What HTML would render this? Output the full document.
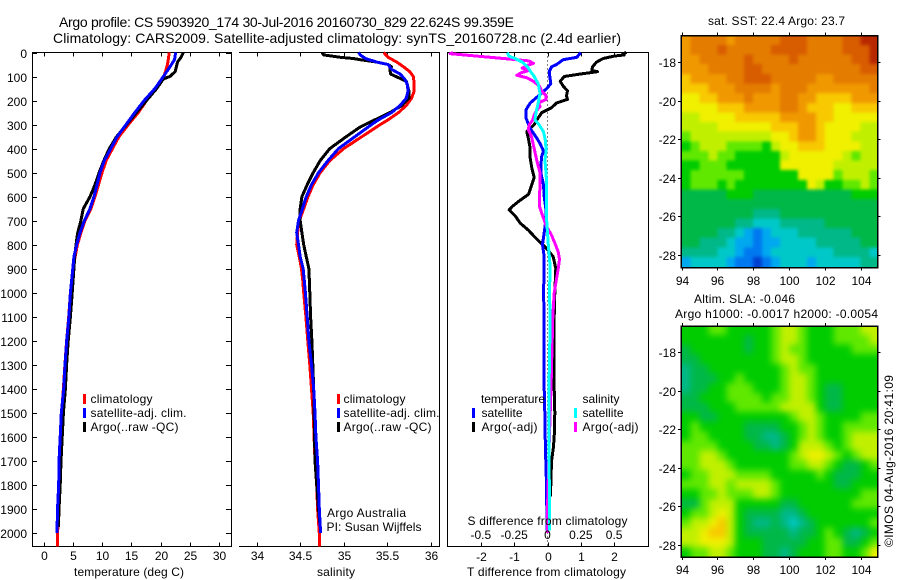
<!DOCTYPE html>
<html lang="en">
<head>
<meta charset="utf-8">
<title>Argo profile 5903920</title>
<style>
html,body{margin:0;padding:0;background:#fff;width:900px;height:580px;overflow:hidden}
svg{display:block;font-family:"Liberation Sans",sans-serif;font-size:12px;fill:#000}
text{fill:#000}
</style>
</head>
<body>
<svg id="chart" xmlns="http://www.w3.org/2000/svg" width="900" height="580" viewBox="0 0 900 580">
<defs>
<filter id="blurSst" x="-10%" y="-10%" width="120%" height="120%" color-interpolation-filters="sRGB"><feGaussianBlur stdDeviation="1.6"/></filter>
<filter id="blurSla" x="-10%" y="-10%" width="120%" height="120%" color-interpolation-filters="sRGB"><feGaussianBlur stdDeviation="3.5"/></filter>
<clipPath id="clipSst"><rect x="681" y="35.5" width="196.5" height="232"/></clipPath>
<clipPath id="clipSla"><rect x="681" y="326" width="196.5" height="231"/></clipPath>
</defs>
<text x="59" y="27" font-size="14" textLength="455" lengthAdjust="spacing">Argo profile: CS 5903920_174 30-Jul-2016 20160730_829 22.624S 99.359E</text>
<text x="53" y="43" font-size="14" textLength="568" lengthAdjust="spacing">Climatology: CARS2009. Satellite-adjusted climatology: synTS_20160728.nc (2.4d earlier)</text>
<text x="74" y="576" textLength="110" lengthAdjust="spacing">temperature (deg C)</text>
<text x="317" y="576" textLength="38" lengthAdjust="spacing">salinity</text>
<text x="467" y="576" textLength="159" lengthAdjust="spacing">T difference from climatology</text>
<text x="327" y="517" textLength="79" lengthAdjust="spacing">Argo Australia</text>
<text x="326.5" y="531" textLength="95" lengthAdjust="spacing">PI: Susan Wijffels</text>
<text x="708" y="25" textLength="137" lengthAdjust="spacing">sat. SST: 22.4  Argo: 23.7</text>
<text x="694" y="303" textLength="101" lengthAdjust="spacing">Altim. SLA: -0.046</text>
<text x="675" y="318" textLength="203" lengthAdjust="spacing">Argo h1000: -0.0017 h2000: -0.0054</text>
<text transform="translate(893,547) rotate(-90)" textLength="172" lengthAdjust="spacing">©IMOS 04-Aug-2016 20:41:09</text>

<g>
<rect x="83" y="394" width="3" height="10" fill="#f00"/>
<rect x="83" y="408" width="3" height="10" fill="#00f"/>
<rect x="83" y="422" width="3" height="10" fill="#000"/>
<text x="90.5" y="403" textLength="62" lengthAdjust="spacing">climatology</text>
<text x="90.5" y="417" textLength="96" lengthAdjust="spacing">satellite-adj. clim.</text>
<text x="90.5" y="431" textLength="88" lengthAdjust="spacing">Argo(..raw -QC)</text>
</g>
<g>
<rect x="337" y="394" width="3" height="10" fill="#f00"/>
<rect x="337" y="408" width="3" height="10" fill="#00f"/>
<rect x="337" y="422" width="3" height="10" fill="#000"/>
<text x="343.5" y="403" textLength="62" lengthAdjust="spacing">climatology</text>
<text x="343.5" y="417" textLength="96" lengthAdjust="spacing">satellite-adj. clim.</text>
<text x="343.5" y="431" textLength="88" lengthAdjust="spacing">Argo(..raw -QC)</text>
</g>
<g id="overlay"></g>
<text id="sdiffTitle" x="467.5" y="525" textLength="160" lengthAdjust="spacing">S difference from climatology</text>
</svg>
<script>
var depthLabels = [0,100,200,300,400,500,600,700,800,900,1000,1100,1200,1300,1400,1500,1600,1700,1800,1900,2000];
var tempTicks = [0,5,10,15,20,25,30];
var salTicks = [34,34.5,35,35.5,36];
var salTickLabels = ['34','34.5','35','35.5','36'];
var tdiffTicks = [-2,-1,0,1,2];
var sdiffTicks = [-0.5,-0.25,0,0.25,0.5];
var lonTicks = [94,96,98,100,102,104];
var latTicks = [-18,-20,-22,-24,-26,-28];

var tempClimDepth = [0,50,100,150,200,250,300,350,400,450,500,550,600,650,700,750,800,850,900,1000,1100,1200,1300,1400,1500,1600,1700,1800,1900,2000,2055];
var tempClim = [21.5,21.2,20.6,19.06,17.6,16.2,14.5,12.9,11.8,10.7,10,9.4,8.8,8.1,7.1,6.4,5.8,5.4,5.05,4.6,4.3,3.95,3.65,3.4,3.1,2.94,2.7,2.65,2.5,2.43,2.36];
var tempSatDepth = [0,30,60,100,150,200,250,300,350,400,450,500,550,600,650,700,750,800,850,900,1000,1100,1200,1300,1400,1500,1600,1700,1800,1900,2000];
var tempSat = [22.6,22.4,21.6,20.5,19.06,17.2,15.6,14.1,12.6,11.5,10.4,9.66,9.15,8.63,7.95,7,6.24,5.67,5.2,5,4.6,4.35,3.97,3.67,3.45,3.05,2.85,2.65,2.6,2.4,2.3];
var tempArgoDepth = [0,20,40,80,100,110,150,200,250,300,350,400,450,500,550,600,650,700,750,800,850,900,1000,1100,1200,1300,1400,1500,1600,1700,1800,1900,1975];
var tempArgo = [23.9,23.5,22.9,22.5,21.6,20.5,19.35,17.6,15.9,14.2,12.5,11.25,10.3,9.5,8.8,7.95,6.8,6.4,5.85,5.55,5.33,5.2,4.9,4.6,4.22,3.95,3.75,3.4,3.2,3,2.85,2.65,2.55];

var salClimDepth = [0,20,40,60,80,100,130,160,190,220,250,280,300,350,400,450,500,550,600,650,700,750,800,850,900,950,1000,1100,1200,1300,1400,1500,1600,1700,1800,1900,2000,2055];
var salClim = [35.46,35.51,35.61,35.69,35.76,35.8,35.81,35.81,35.78,35.72,35.63,35.51,35.42,35.21,35,34.84,34.73,34.65,34.59,34.54,34.49,34.47,34.46,34.49,34.515,34.53,34.54,34.565,34.587,34.61,34.63,34.65,34.66,34.67,34.69,34.7,34.72,34.72];
var salSatDepth = [0,10,25,40,50,70,90,110,130,160,190,220,250,280,300,350,400,450,500,550,600,650,700,750,800,850,900,1000,1100,1200,1300,1400,1500,1600,1700,1800,1900,2000];
var salSat = [35.17,35.19,35.25,35.38,35.51,35.55,35.65,35.7,35.73,35.74,35.72,35.65,35.55,35.4,35.32,35.13,34.94,34.82,34.71,34.63,34.57,34.525,34.48,34.46,34.48,34.5,34.535,34.56,34.58,34.6,34.63,34.655,34.67,34.68,34.7,34.71,34.72,34.735];
var salArgoDepth = [0,10,20,25,30,40,50,60,70,90,105,120,160,190,220,250,280,310,350,400,450,500,550,600,650,700,750,800,850,900,1000,1100,1200,1300,1400,1700,1900,1975];
var salArgo = [34.75,34.77,34.96,35.11,35.19,35.38,35.51,35.55,35.53,35.54,35.63,35.72,35.75,35.75,35.67,35.53,35.36,35.19,35.03,34.84,34.73,34.65,34.58,34.52,34.5,34.5,34.52,34.54,34.57,34.6,34.61,34.62,34.635,34.645,34.655,34.67,34.71,34.73];

var tdiffSatDepth = [0,20,30,50,60,80,100,130,150,180,210,240,270,300,320,350,380,410,430,470,500,550,600,650,700,750,800,850,900,1000,1100,1200,1300,1400,1500,1600,1700,1800,1900,1990];
var tdiffSat = [1,0.88,0.47,0.27,0.12,0.05,0.07,0.1,-0.02,-0.27,-0.52,-0.65,-0.65,-0.57,-0.5,-0.35,-0.22,-0.12,-0.17,-0.2,-0.2,-0.12,-0.1,-0.05,-0.05,-0.1,-0.15,-0.1,-0.1,-0.12,-0.1,-0.1,-0.1,-0.1,-0.08,-0.07,-0.05,-0.03,-0.02,-0.01];
var tdiffArgoDepth = [0,5,10,15,25,40,60,75,80,90,100,120,140,160,180,195,210,230,250,270,300,330,360,400,440,480,520,550,590,620,640,655,680,710,740,770,790,820,850,880,900,1000,1100,1400,1500,1600,1650,1700,1800,1850];
var tdiffArgo = [2.37,2.27,2.3,2,1.67,1.47,1.35,1.33,1.5,0.97,0.5,0.38,0.47,0.6,0.57,0.6,0.27,0.12,-0.17,-0.27,-0.4,-0.62,-0.57,-0.52,-0.52,-0.47,-0.4,-0.47,-0.57,-0.87,-1.05,-1.15,-0.97,-0.82,-0.57,-0.37,-0.22,0,0.17,0.22,0.25,0.22,0.2,0.2,0.22,0.2,0.17,0.12,0.1,0.08];
var sdiffSatDepth = [0,15,25,40,60,80,100,130,170,210,250,280,300,330,370,410,450,500,550,600,700,750,800,850,900,1000,1100,1400,1990];
var sdiffSat = [-0.3,-0.29,-0.244,-0.19,-0.15,-0.126,-0.1,-0.07,-0.056,-0.07,-0.086,-0.094,-0.064,-0.03,-0.014,-0.011,-0.019,-0.011,-0.006,-0.006,-0.006,0,0.006,0.014,0.02,0.014,0.02,0.011,0.014];
var sdiffArgoDepth = [0,5,15,25,35,45,55,65,75,85,95,105,120,140,160,180,195,210,225,240,260,280,300,320,350,400,450,500,550,600,640,680,720,760,800,830,860,900,1000,1100,1400,1600,1900,2000];
var sdiffArgo = [-0.71,-0.73,-0.53,-0.33,-0.14,-0.106,-0.156,-0.19,-0.14,-0.2,-0.23,-0.156,-0.106,-0.06,-0.044,-0.01,-0.01,-0.07,-0.056,-0.08,-0.1,-0.11,-0.136,-0.144,-0.12,-0.1,-0.08,-0.056,-0.056,-0.06,-0.06,-0.036,-0.011,0.03,0.06,0.08,0.09,0.08,0.05,0.04,0.026,0.014,0,0.001];

var sstLevels = [
[11,12,12,12,12,11,12,12,12,12,12,13,13,13,12,12,12,12,13,13,14,14],
[11,12,12,12,13,12,12,12,12,12,13,13,13,13,12,12,12,12,13,13,13,14],
[11,11,12,12,12,12,12,13,12,12,12,12,13,12,12,12,12,12,12,13,13,14],
[11,11,11,12,12,12,12,13,13,12,12,12,12,12,12,12,12,12,12,12,13,13],
[10,11,11,11,11,12,12,13,13,13,12,12,12,12,12,11,11,12,12,12,12,12],
[10,10,10,11,11,11,12,12,12,12,11,12,12,12,11,11,11,11,11,11,11,12],
[9,9,10,10,11,11,11,12,11,11,11,12,12,11,11,10,10,10,10,11,11,11],
[9,9,9,9,10,10,10,11,11,11,11,12,12,11,10,10,10,9,9,10,10,10],
[8,8,9,9,9,9,10,10,10,10,10,11,11,11,11,10,10,9,9,9,9,9],
[8,8,8,8,9,9,9,9,9,9,10,10,10,11,11,10,9,9,9,9,8,8],
[7,8,8,8,8,8,8,8,8,8,9,9,10,11,11,10,9,9,9,8,8,8],
[6,7,8,8,8,7,7,7,7,6,8,9,9,10,10,10,9,9,9,9,8,8],
[7,7,7,8,7,7,6,6,6,6,6,8,9,9,9,9,9,9,8,7,8,8],
[6,6,7,7,7,6,6,6,6,6,6,9,9,9,9,9,9,8,8,8,8,8],
[6,7,7,7,7,7,7,6,6,6,6,6,6,9,9,9,9,7,8,8,8,7],
[6,7,7,7,6,7,6,6,6,6,6,6,6,6,9,8,6,6,7,7,8,7],
[5,5,5,5,5,6,6,6,5,5,5,5,5,5,5,5,5,5,5,6,6,6],
[5,5,5,5,5,5,5,5,5,5,5,5,5,5,5,5,5,5,5,5,5,5],
[5,5,5,5,5,5,5,5,4,4,4,5,5,5,5,5,5,5,5,5,5,5],
[5,5,5,5,5,5,4,4,3,3,3,4,4,4,4,4,5,5,5,5,5,5],
[5,5,5,5,4,4,3,2,1,2,3,3,3,4,4,4,4,4,4,5,5,5],
[5,5,4,4,4,3,2,2,1,2,2,3,3,3,3,4,4,4,4,4,5,5],
[4,4,4,4,3,3,2,1,1,2,3,3,3,3,3,3,3,4,4,4,4,3],
[2,3,3,3,3,2,1,1,0,1,2,3,3,3,2,3,3,3,3,3,4,4]
];
var slaLevels = [
[6,6,6,7,7,6,6,6,6,6,7,8,8,7,6,6,6,7,7,7,8,8],
[6,6,6,6,6,6,6,5,6,6,7,8,8,7,6,6,6,7,7,7,7,8],
[5,6,6,6,6,6,6,5,6,6,7,8,7,7,6,6,6,6,6,7,7,7],
[5,5,6,6,6,6,6,6,6,6,7,8,8,7,6,6,6,6,6,6,6,6],
[4,5,5,6,6,6,6,6,6,6,6,7,8,7,7,6,6,6,6,6,6,6],
[4,5,5,5,6,6,7,6,6,6,6,7,8,8,7,6,6,6,6,6,6,6],
[4,5,5,6,6,7,7,7,6,6,6,7,8,8,7,6,5,5,6,6,6,6],
[5,5,6,6,6,7,7,7,7,6,7,7,8,8,7,6,5,5,6,6,6,6],
[5,5,5,6,6,6,7,7,7,7,7,8,8,8,8,6,5,5,6,6,6,6],
[6,6,5,5,6,6,6,6,6,6,6,6,7,8,8,7,6,6,6,6,7,7],
[6,7,6,6,6,6,6,5,5,5,5,6,6,7,8,7,6,6,7,7,7,7],
[6,7,7,6,6,6,6,5,5,4,4,5,6,7,8,7,6,6,7,8,8,8],
[7,7,7,7,6,6,6,6,5,5,4,5,6,8,8,8,7,6,7,8,8,8],
[7,7,8,8,7,6,6,6,6,6,6,6,7,8,9,9,8,7,6,7,8,8],
[7,7,8,8,8,7,6,6,6,6,6,6,7,7,8,8,7,6,5,5,6,7],
[6,7,7,8,8,8,7,7,7,7,6,6,6,6,6,7,6,5,5,5,6,6],
[7,7,7,8,8,7,8,8,8,8,7,6,6,6,6,6,6,5,5,6,6,6],
[6,6,7,7,8,7,7,7,8,8,7,6,6,6,6,6,6,6,6,6,7,7],
[5,5,7,8,8,8,6,6,6,6,6,5,5,6,6,6,6,6,6,7,7,7],
[6,7,7,8,9,8,6,5,5,5,5,4,4,5,6,6,6,6,6,6,6,6],
[7,8,8,9,10,8,6,5,4,4,5,4,3,4,5,6,6,6,6,6,6,7],
[8,8,9,10,10,8,6,5,5,5,5,5,4,5,5,6,7,6,5,4,5,6],
[8,8,9,9,9,8,6,6,6,5,5,5,5,5,6,6,7,7,5,5,6,7],
[6,7,7,8,8,7,6,6,6,5,5,4,5,6,6,6,7,7,6,6,7,9]
];
var ramp = ['#0040d0','#0078f0','#00a8f0','#00c8c8','#00b888','#00b848','#00cc00','#60e800','#c0f000','#f0f000','#f8c800','#f09800','#e47c00','#d85c00','#b82800'];

var NS = 'http://www.w3.org/2000/svg';
var svg = document.getElementById('chart');
var overlay = document.getElementById('overlay');
function yDepth(d){ return 52.5 + 0.2403 * d; }
function xTemp(t){ return 43.5 + 5.85 * t; }
function xSal(s){ return 256.7 + 87 * (s - 34); }
function xTd(v){ return 547.5 + 33.33 * v; }
function xSd(v){ return 547.5 + 133.3 * v; }
function xLon(l){ return 681.5 + 17.9 * (l - 94); }
function yLatTop(l){ return 62.3 + 19.27 * (-18 - l); }
function yLatBot(l){ return 352.3 + 19.27 * (-18 - l); }
function mk(tag, attrs, parent){
  var el = document.createElementNS(NS, tag);
  for (var k in attrs) el.setAttribute(k, attrs[k]);
  (parent || svg).appendChild(el);
  return el;
}
function line(x1,y1,x2,y2,name){
  var el = mk('line',{x1:x1,y1:y1,x2:x2,y2:y2,stroke:'#000','stroke-width':1,'shape-rendering':'crispEdges'});
  
  
  return el;
}
function label(x,y,s,anchor,name){
  var el = mk('text',{x:x,y:y,'text-anchor':anchor});
  el.textContent = s;
  
  
  return el;
}
function profile(depths, values, xf, color, width, name){
  var pts = [];
  for (var i = 0; i < depths.length; i++) pts.push(xf(values[i]).toFixed(1) + ',' + yDepth(depths[i]).toFixed(1));
  var el = mk('polyline',{points:pts.join(' '),fill:'none',stroke:color,'stroke-width':width,'stroke-linejoin':'round','shape-rendering':'crispEdges'});
  
  
  return el;
}
function heatmap(levels, yf, name, clipId, filterId){
  var outer = mk('g',{'clip-path':'url(#' + clipId + ')'});
  
  
  var g = mk('g',{filter:'url(#' + filterId + ')'},outer);
  
  
  var lastRow = levels.length - 1;
  for (var r = 0; r < levels.length; r++){
    var lastCol = levels[r].length - 1;
    for (var c = 0; c < levels[r].length; c++){
      var x0 = xLon(94 + 0.5*c), x1 = xLon(94 + 0.5*(c+1));
      var y0 = yf(-16.6 - 0.5*r), y1 = yf(-16.6 - 0.5*(r+1));
      if (c === 0) x0 -= 14;
      if (c === lastCol) x1 += 14;
      if (r === 0) y0 -= 14;
      if (r === lastRow) y1 += 14;
      var cell = mk('rect',{x:x0.toFixed(1),y:y0.toFixed(1),width:(x1-x0+0.3).toFixed(1),height:(y1-y0+0.3).toFixed(1),fill:ramp[levels[r][c]],'shape-rendering':'crispEdges'},g);
      
      
    }
  }
}
var PT = 52.5, PB = 546.5;
// temperature panel axes
line(32.5,PT,32.5,PB,'temperature-panel-left-axis');
line(231.5,PT,231.5,PB,'temperature-panel-right-axis');
line(32,PT,232,PT,'temperature-panel-top-axis');
line(32,PB,232,PB,'temperature-panel-bottom-axis');
depthLabels.forEach(function(d){
  var y = Math.round(yDepth(d)) + 0.5;
  line(32,y,37,y,'depth-tick-left');
  line(226,y,231,y,'depth-tick-right');
  label(27,y+4.5,String(d),'end','depth-tick-label');
});
tempTicks.forEach(function(t){
  var x = Math.round(xTemp(t)) + 0.5;
  line(x,PT,x,PT+4,'temperature-tick-top');
  line(x,PB-4,x,PB,'temperature-tick-bottom');
  label(x,560,String(t),'middle','temperature-tick-label');
});
// salinity panel axes
line(439.5,PT,439.5,PB,'salinity-panel-right-axis');
line(239,PT,440,PT,'salinity-panel-top-axis');
line(239,PB,440,PB,'salinity-panel-bottom-axis');
salTicks.forEach(function(s,i){
  var x = Math.round(xSal(s)) + 0.5;
  line(x,PT,x,PT+4,'salinity-tick-top');
  line(x,PB-4,x,PB,'salinity-tick-bottom');
  label(x,560,salTickLabels[i],'middle','salinity-tick-label');
});
// difference panel axes
line(447.5,PT,447.5,PB,'difference-panel-left-axis');
line(648.5,PT,648.5,PB,'difference-panel-right-axis');
line(447,PT,649,PT,'difference-panel-top-axis');
line(447,PB,649,PB,'difference-panel-bottom-axis');
tdiffTicks.forEach(function(v){
  var x = Math.round(xTd(v)) + 0.5;
  line(x,PT,x,PT+4,'t-difference-tick-top');
  line(x,PB-4,x,PB,'t-difference-tick-bottom');
  label(x,561,String(v),'middle','t-difference-tick-label');
});
var zero = mk('line',{x1:547.5,y1:PT,x2:547.5,y2:PB,stroke:'#000','stroke-width':1,'stroke-dasharray':'1 3','shape-rendering':'crispEdges'});



profile(tempClimDepth,tempClim,xTemp,'#f00',3,'temperature-climatology-line');
profile(tempArgoDepth,tempArgo,xTemp,'#000',3,'temperature-argo-line');
profile(tempSatDepth,tempSat,xTemp,'#00f',3,'temperature-satellite-line');
profile(salClimDepth,salClim,xSal,'#f00',3,'salinity-climatology-line');
profile(salArgoDepth,salArgo,xSal,'#000',3,'salinity-argo-line');
profile(salSatDepth,salSat,xSal,'#00f',3,'salinity-satellite-line');
profile(tdiffArgoDepth,tdiffArgo,xTd,'#000',3,'t-difference-argo-line');
profile(tdiffSatDepth,tdiffSat,xTd,'#00f',3,'t-difference-satellite-line');
profile(sdiffArgoDepth,sdiffArgo,xSd,'#f0f',3,'s-difference-argo-line');
profile(sdiffSatDepth,sdiffSat,xSd,'#0ff',3,'s-difference-satellite-line');
sdiffTicks.forEach(function(v){
  label(xSd(v),539,String(v),'middle','s-difference-tick-label');
});

// maps
heatmap(sstLevels,yLatTop,'sst-heatmap','clipSst','blurSst');
heatmap(slaLevels,yLatBot,'sla-heatmap','clipSla','blurSla');
function mapFrame(x0,y0,x1,y1,yf,baseline,prefix){
  var r = mk('rect',{x:x0,y:y0,width:x1-x0,height:y1-y0,fill:'none',stroke:'#000','stroke-width':1.5,'shape-rendering':'crispEdges'});
  
  
  lonTicks.forEach(function(l){
    var x = Math.round(xLon(l)) + 0.5;
    line(x,y0-3,x,y0,prefix + '-longitude-tick-top');
    line(x,y1,x,y1+3,prefix + '-longitude-tick-bottom');
    label(x,baseline,String(l),'middle',prefix + '-longitude-tick-label');
  });
  latTicks.forEach(function(l){
    var y = Math.round(yf(l)) + 0.5;
    line(x0-3,y,x0,y,prefix + '-latitude-tick-left');
    line(x1,y,x1+3,y,prefix + '-latitude-tick-right');
    label(676,y+4.5,String(l),'end',prefix + '-latitude-tick-label');
  });
}
mapFrame(681,35.5,877.5,267.5,yLatTop,285,'sst');
mapFrame(681,326,877.5,557,yLatBot,574,'sla');

// difference panel legend and title go above the lines
svg.appendChild(overlay);
svg.appendChild(document.getElementById('sdiffTitle'));
function legendBar(x,y,color,name){
  var el = mk('rect',{x:x,y:y,width:3,height:10,fill:color},overlay);
  
  
}
function legendText(x,y,s,len,name){
  var el = mk('text',{x:x,y:y,textLength:len,lengthAdjust:'spacing'},overlay);
  el.textContent = s;
  
  
}
legendBar(472,408,'#00f','legend-swatch-temperature-satellite');
legendBar(472,422,'#000','legend-swatch-temperature-argo');
legendBar(574,408,'#0ff','legend-swatch-salinity-satellite');
legendBar(574,422,'#f0f','legend-swatch-salinity-argo');
legendText(481,403,'temperature',64,'legend-heading-temperature');
legendText(481.5,417,'satellite',41,'legend-label-temperature-satellite');
legendText(481.5,431,'Argo(-adj)',56,'legend-label-temperature-argo');
legendText(582.5,403,'salinity',37,'legend-heading-salinity');
legendText(582.5,417,'satellite',41,'legend-label-salinity-satellite');
legendText(582.5,431,'Argo(-adj)',56,'legend-label-salinity-argo');
</script>
</body>
</html>
